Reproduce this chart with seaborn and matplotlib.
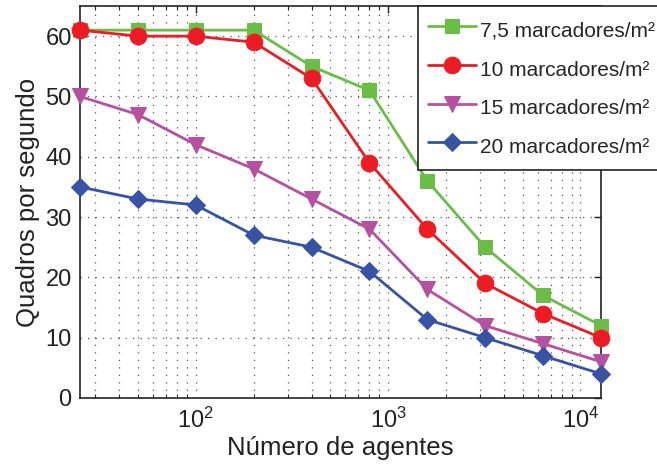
import numpy as np
import pandas as pd
import matplotlib
matplotlib.use("Agg")
import matplotlib.pyplot as plt
import seaborn as sns
from matplotlib.ticker import LogLocator, NullFormatter, MultipleLocator

agents = [25, 50, 100, 200, 400, 800, 1600, 3200, 6400, 12800]
fps_75 = [61, 61, 61, 61, 55, 51, 36, 25, 17, 12]
fps_10 = [61, 60, 60, 59, 53, 39, 28, 19, 14, 10]
fps_15 = [50, 47, 42, 38, 33, 28, 18, 12, 9, 6]
fps_20 = [35, 33, 32, 27, 25, 21, 13, 10, 7, 4]
labels = ["7,5 marcadores/m²", "10 marcadores/m²", "15 marcadores/m²", "20 marcadores/m²"]
colors = ["#6abd45", "#ed1c24", "#b5519e", "#3853a4"]
markers = ["s", "o", "v", "D"]
msizes = [9.5, 12, 12, 9.5]

sns.set_theme(style="white")
plt.rcParams["font.family"] = ["Liberation Sans", "DejaVu Sans"]
plt.rcParams["mathtext.fontset"] = "custom"
plt.rcParams["mathtext.rm"] = "Liberation Sans"
plt.rcParams["mathtext.it"] = "Liberation Sans"

df = pd.DataFrame({
    "agentes": agents * 4,
    "fps": fps_75 + fps_10 + fps_15 + fps_20,
    "serie": sum([[l] * len(agents) for l in labels], []),
})

fig = plt.figure(figsize=(6.57, 4.70), dpi=100)
ax = fig.add_axes([0.1218, 0.1532, 0.793, 0.834])

for lab, c, m, ms in zip(labels, colors, markers, msizes):
    sub = df[df["serie"] == lab]
    sns.lineplot(data=sub, x="agentes", y="fps", ax=ax, color=c, marker=m,
                 markersize=ms, linewidth=2.0, markeredgecolor=c, label=lab,
                 clip_on=False, zorder=3)

ax.set_xscale("log")
ax.set_xlim(25, 12800)
ax.set_ylim(0, 65)
ax.yaxis.set_major_locator(MultipleLocator(10))
ax.xaxis.set_major_locator(LogLocator(base=10))
ax.xaxis.set_minor_locator(LogLocator(base=10, subs=np.arange(2, 10)))
ax.xaxis.set_minor_formatter(NullFormatter())

gstyle = dict(linestyle=(0, (1, 5)), color="#555555", linewidth=0.9)
ax.grid(True, which="major", axis="both", **gstyle)
ax.grid(True, which="minor", axis="x", **gstyle)
ax.set_axisbelow(True)

for s in ax.spines.values():
    s.set_color("#222222")
    s.set_linewidth(1.2)
ax.tick_params(axis="both", which="major", direction="in", length=5, width=1,
               labelsize=17, top=True, right=True, colors="#222222", pad=6)
ax.tick_params(axis="x", which="major", pad=7)
ax.tick_params(axis="x", which="minor", direction="in", length=3, width=0.8,
               top=True, bottom=True)
ax.tick_params(axis="y", which="minor", left=False, right=False)

ax.set_xlabel("Número de agentes", fontsize=18.5, color="#222222", labelpad=2)
ax.set_ylabel("Quadros por segundo", fontsize=18.5, color="#222222", labelpad=4)

leg = ax.legend(loc="upper left", bbox_to_anchor=(418 / 657, 1 - 6 / 470),
                bbox_transform=fig.transFigure, fontsize=15.0, frameon=True,
                fancybox=False, edgecolor="#222222", framealpha=1,
                handlelength=2.28, handleheight=1.72, labelspacing=0.49,
                borderpad=0.48, handletextpad=0.2, borderaxespad=0)
leg.get_frame().set_linewidth(1.2)

fig.savefig("out.png", dpi=100)
